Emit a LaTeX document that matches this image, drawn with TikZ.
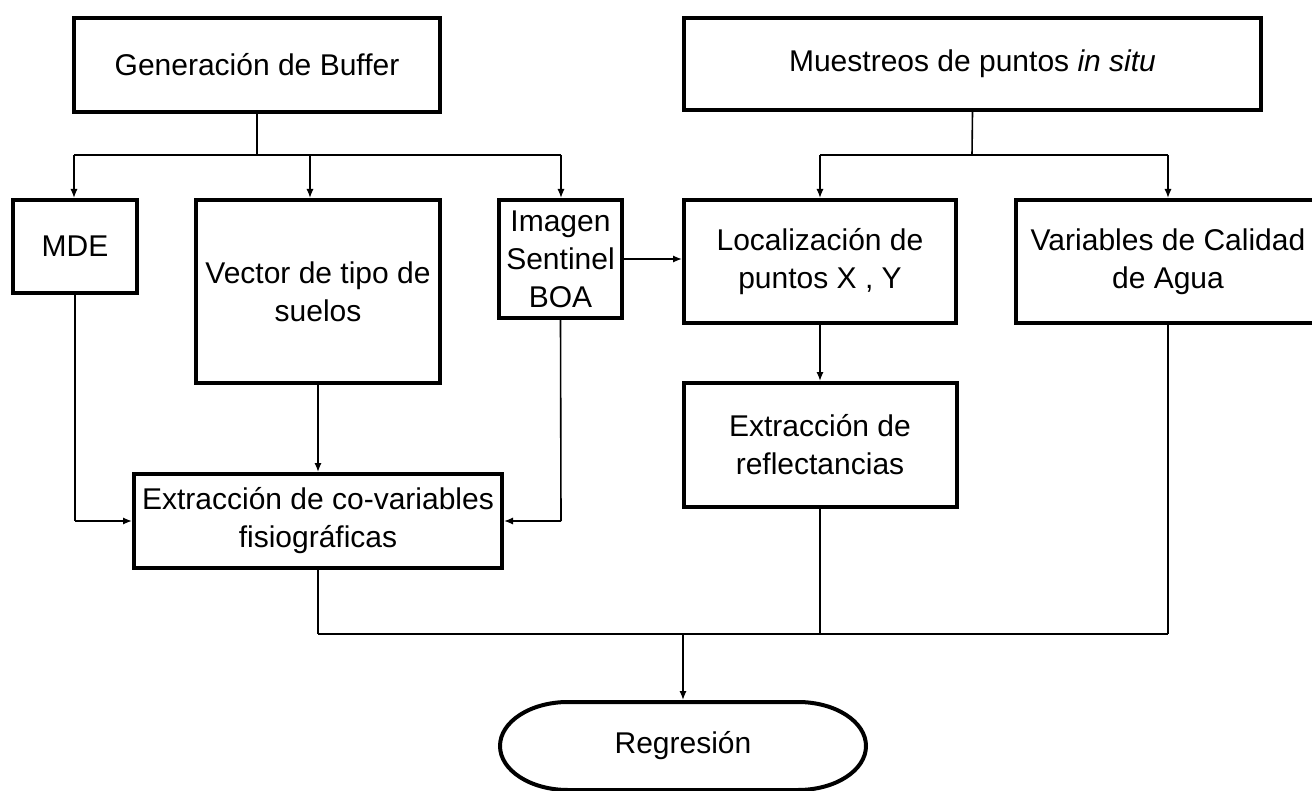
\documentclass[tikz,border=0pt]{standalone}
\usepackage{fontspec}
\setmainfont{Liberation Sans}
\usetikzlibrary{arrows.meta}
\begin{document}
\begin{tikzpicture}[x=0.5pt,y=-0.5pt,
  box/.style={draw, line width=2pt, inner sep=0pt, align=center, font=\fontsize{15}{19}\selectfont},
  conn/.style={line width=0.8pt},
  arr/.style={conn, -{Latex[length=4.5pt,width=3.6pt]}}]
\useasboundingbox (0,0) rectangle (1312,791);
% nodes
\node[box, minimum width=183pt, minimum height=47pt] (buf) at (257,65) {Generación de Buffer};
\node[box, minimum width=288.5pt, minimum height=46pt] (mue) at (972.5,64) {Muestreos de puntos \textit{in situ}};
\node[box, minimum width=62pt, minimum height=46.5pt] (mde) at (75,246.5) {MDE};
\node[box, minimum width=122pt, minimum height=91.5pt] (vec) at (318,291.5) {Vector de tipo de\\suelos};
\node[box, minimum width=61.5pt, minimum height=59pt] (img) at (560.5,259) {Imagen\\Sentinel\\BOA};
\node[box, minimum width=136pt, minimum height=61.5pt] (loc) at (820,261.5) {Localización de\\puntos X , Y};
\node[box, minimum width=152pt, minimum height=61.5pt] (var) at (1168,261.5) {Variables de Calidad\\de Agua};
\node[box, minimum width=136.5pt, minimum height=62pt] (ref) at (820,445) {Extracción de\\reflectancias};
\node[box, minimum width=184pt, minimum height=47pt] (cov) at (318,521) {Extracción de co-variables\\fisiográficas};
\node[box, draw=none, outer sep=0pt, minimum width=183pt, minimum height=44pt] (reg) at (683,746) {Regresión};
\draw[line width=2pt] ([xshift=34pt]reg.north west) -- ([xshift=-34pt]reg.north east)
  arc(90:-90:34pt and 22pt) -- ([xshift=34pt]reg.south west)
  arc(270:90:34pt and 22pt) -- cycle;
% junction coordinates
\coordinate (bj) at (257,155);
\coordinate (bl) at (74,155);
\coordinate (bv) at (310,155);
\coordinate (br) at (561,155);
\coordinate (mj) at (972,155);
\coordinate (ml) at (820,155);
\coordinate (mr) at (1168,155);
\coordinate (cl) at (75,521);
\coordinate (cr) at (561,521);
\coordinate (jl) at (318,634);
\coordinate (jm) at (820,634);
\coordinate (jr) at (1168,634);
\coordinate (jc) at (683,634);
% connectors
\draw[conn] (buf.south) -- (bj);
\draw[conn] (bl) -- (br);
\draw[arr] (bl) -- (bl |- mde.north);
\draw[arr] (bv) -- (bv |- vec.north);
\draw[arr] (br) -- (br |- img.north);
\draw[conn] (mue.south) -- (mj);
\draw[conn] (ml) -- (mr);
\draw[arr] (ml) -- (ml |- loc.north);
\draw[arr] (mr) -- (mr |- var.north);
\draw[arr] (img.east) -- (img.east -| loc.west);
\draw[arr] (loc.south) -- (ref.north);
\draw[conn] (mde.south) -- (cl);
\draw[arr] (cl) -- (cov.west);
\draw[arr] (vec.south) -- (cov.north);
\draw[conn] (img.south) -- (cr);
\draw[arr] (cr) -- (cov.east);
\draw[conn] (cov.south) -- (jl);
\draw[conn] (ref.south) -- (jm);
\draw[conn] (var.south) -- (jr);
\draw[conn] (jl) -- (jr);
\draw[arr] (jc) -- ([yshift=1pt]reg.north);
\end{tikzpicture}
\end{document}
